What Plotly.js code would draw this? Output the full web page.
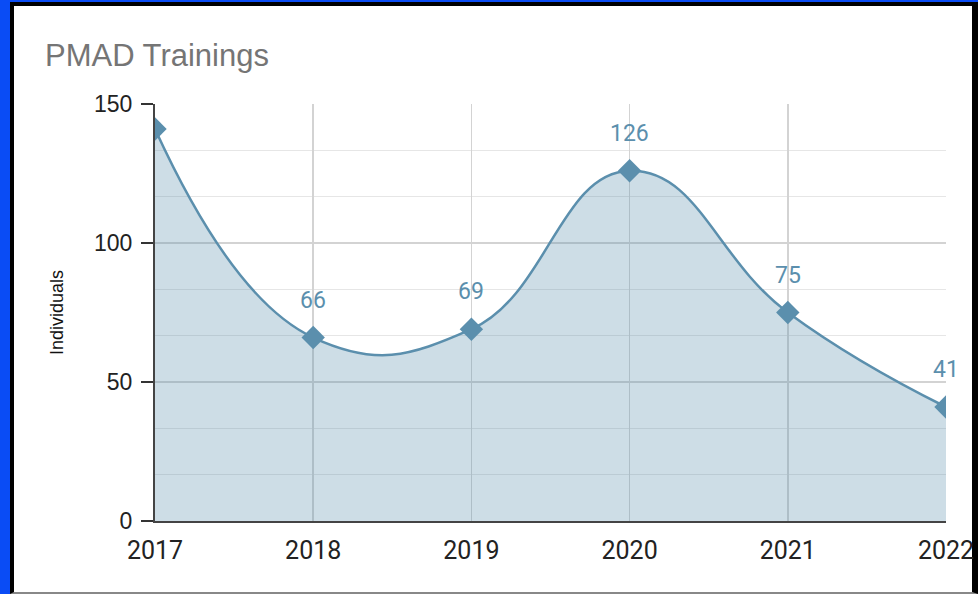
<!DOCTYPE html>
<html>
<head>
<meta charset="utf-8">
<script src="https://cdn.plot.ly/plotly-3.0.1.min.js"></script>
<style>
  html, body { margin: 0; padding: 0; width: 978px; height: 594px; overflow: hidden; background: #0a4cf5; }
  #card {
    position: absolute; left: 10px; top: 2px; width: 958px; height: 586px;
    background: #fff; border: 4px solid #000; border-bottom: 2px solid #888;
    border-right: 6px solid #000;
  }
  #myDiv { position: absolute; left: 0; top: 0; width: 978px; height: 594px; }
</style>
</head>
<body>
<div id="card"></div>
<div id="myDiv"></div>
<script>
var years = [2017, 2018, 2019, 2020, 2021, 2022];
var individuals = [141, 66, 69, 126, 75, 41];
// the 2017 label sits above the plot top and is not shown
var labelShown = [false, true, true, true, true, true];

var lineColor = '#5b8fad';

var trainings = {
	x: years,
	y: individuals,
	type: 'scatter',
	mode: 'lines+markers',
	line: { shape: 'spline', smoothing: 1.3, color: lineColor, width: 2.5 },
	marker: { symbol: 'diamond', size: 18, color: lineColor },
	fill: 'tozeroy',
	fillcolor: 'rgba(91, 143, 173, 0.3)',
	hoverinfo: 'x+y'
};

var valueLabels = [];
years.forEach(function (yr, i) {
	if (!labelShown[i]) return;
	valueLabels.push({
		x: yr,
		y: individuals[i],
		text: String(individuals[i]),
		showarrow: false,
		yanchor: 'bottom',
		yshift: 22,
		font: { family: 'Roboto', size: 23, color: lineColor }
	});
});

var layout = {
	width: 978,
	height: 594,
	margin: { l: 155, r: 32, t: 104, b: 73 },
	paper_bgcolor: 'rgba(0,0,0,0)',
	plot_bgcolor: '#fff',
	showlegend: false,
	annotations: valueLabels,
	title: {
		text: 'PMAD Trainings',
		x: 0.046, xanchor: 'left',
		y: 0.907, yanchor: 'middle',
		font: { family: 'Liberation Sans', size: 31, color: '#757575' }
	},
	xaxis: {
		range: [2017, 2022],
		tickvals: years,
		ticktext: years.map(String),
		showgrid: true,
		gridcolor: '#d3d3d3',
		gridwidth: 1.5,
		showline: true,
		linecolor: '#444',
		linewidth: 2,
		ticks: '',
		zeroline: false,
		tickfont: { family: 'Roboto', size: 25, color: '#222' },
		ticklabelstandoff: 6
	},
	yaxis: {
		range: [0, 150],
		tickvals: [0, 50, 100, 150],
		showgrid: true,
		gridcolor: '#d3d3d3',
		gridwidth: 1.5,
		minor: { dtick: 50 / 3, showgrid: true, gridcolor: '#e6e6e6', gridwidth: 1.5 },
		showline: true,
		linecolor: '#444',
		linewidth: 2,
		ticks: 'outside',
		ticklen: 12,
		tickcolor: '#333',
		tickwidth: 2,
		zeroline: false,
		tickfont: { family: 'Liberation Sans', size: 23, color: '#222' },
		ticklabelstandoff: 4,
		title: {
			text: 'Individuals',
			standoff: 26,
			font: { family: 'Liberation Sans', size: 18, color: '#111' }
		}
	}
};

Plotly.newPlot('myDiv', [trainings], layout, { displayModeBar: false, staticPlot: true });
</script>
</body>
</html>
